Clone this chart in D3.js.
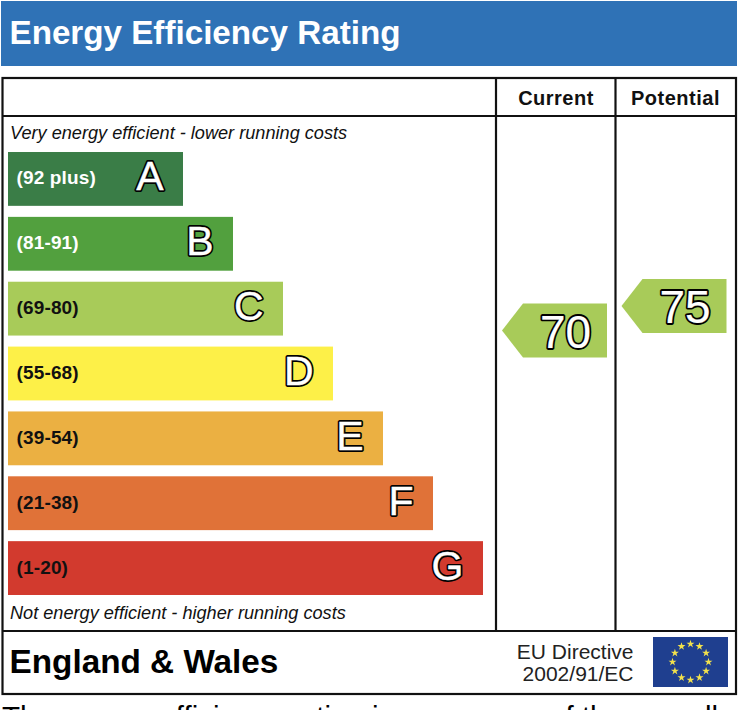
<!DOCTYPE html>
<html>
<head>
<meta charset="utf-8">
<script src="https://cdn.jsdelivr.net/npm/d3@7"></script>
<style>
  html, body { margin: 0; padding: 0; background: #fff; }
  svg { display: block; font-family: "Liberation Sans", Arial, sans-serif; }
</style>
</head>
<body>
<div id="chart"></div>
<script>
// Data
const bandLetters = ["A", "B", "C", "D", "E", "F", "G"];
const bandRanges = ["(92 plus)", "(81-91)", "(69-80)", "(55-68)", "(39-54)", "(21-38)", "(1-20)"];
const bandLengths = [1, 2, 3, 4, 5, 6, 7];
const bandColors = ["#3a7d47", "#52a03e", "#a8cb59", "#fdf048", "#ebb042", "#e07238", "#d23a2e"];
const ratingColumns = ["Current", "Potential"];
const ratingValues = [70, 75];
const ratingColor = "#a8cb59";

const width = 742;
const height = 710;

const svg = d3.select("#chart")
  .append("svg")
  .attr("width", width)
  .attr("height", height);

// Title banner
svg.append("rect")
  .attr("x", 1).attr("y", 1)
  .attr("width", 736).attr("height", 65)
  .attr("fill", "#2f72b6");

svg.append("text")
  .attr("x", 9.5).attr("y", 43.5)
  .attr("fill", "#fff")
  .style("font-size", "33.2px")
  .style("font-weight", "bold")
  .text("Energy Efficiency Rating");

// Scales
const xBar = d3.scaleLinear().domain([1, 7]).range([183, 483]);
const yBand = d3.scaleBand()
  .domain(bandLetters)
  .range([146.5, 600.5])
  .paddingInner(0.17)
  .paddingOuter(0.085);
const yRating = d3.scaleLinear().domain([70, 75]).range([330.5, 306]);
const xColumn = d3.scaleOrdinal().domain(ratingColumns).range([556, 675.5]);

// Outlined white text: black halo underneath, white on top
function outlined(sel, outer, inner) {
  sel.append("text")
    .attr("class", "halo")
    .attr("stroke", "#000")
    .attr("stroke-width", outer)
    .attr("stroke-linejoin", "round")
    .attr("fill", "#000");
  sel.append("text")
    .attr("class", "core")
    .attr("stroke", "#fff")
    .attr("stroke-width", inner)
    .attr("fill", "#fff");
  return sel.selectAll("text.halo, text.core");
}

// Bars
const bars = svg.append("g").selectAll("g")
  .data(bandLetters)
  .join("g")
  .attr("transform", d => `translate(8,${yBand(d)})`);

bars.append("rect")
  .attr("width", (d, i) => xBar(bandLengths[i]) - 8)
  .attr("height", yBand.bandwidth())
  .attr("fill", (d, i) => bandColors[i]);

bars.append("text")
  .attr("x", 8.5)
  .attr("y", yBand.bandwidth() / 2 + 5.5)
  .attr("fill", (d, i) => i < 2 ? "#fff" : "#111")
  .style("font-size", "19px")
  .style("font-weight", "bold")
  .style("letter-spacing", "0.15px")
  .text((d, i) => bandRanges[i]);

outlined(bars, 3.8, 0.4)
  .attr("x", d => xBar(bandLengths[bandLetters.indexOf(d)]) - 8 - 19.5)
  .attr("y", yBand.bandwidth() / 2 + 11.5)
  .attr("text-anchor", "end")
  .style("font-size", "41px")
  .text(d => d);

// Frame lines
const frame = svg.append("g")
  .attr("stroke", "#111")
  .attr("stroke-width", 2.2)
  .attr("fill", "none");

frame.append("rect").attr("x", 2.5).attr("y", 78).attr("width", 733.5).attr("height", 616);
[116, 631].forEach(y => frame.append("line").attr("x1", 2).attr("x2", 736).attr("y1", y).attr("y2", y));
[496, 615.5].forEach(x => frame.append("line").attr("x1", x).attr("x2", x).attr("y1", 78).attr("y2", 631));

// Column headers
svg.append("g").selectAll("text")
  .data(ratingColumns)
  .join("text")
  .attr("x", d => xColumn(d))
  .attr("y", 105)
  .attr("text-anchor", "middle")
  .attr("fill", "#111")
  .style("font-size", "20px")
  .style("font-weight", "bold")
  .style("letter-spacing", "0.5px")
  .text(d => d);

// Rating arrows
const arrows = svg.append("g").selectAll("g")
  .data(ratingValues)
  .join("g")
  .attr("transform", (d, i) => `translate(${xColumn(ratingColumns[i])},${yRating(d)})`);

arrows.append("path")
  .attr("d", "M-54,0L-33,-27H51V27H-33Z")
  .attr("fill", ratingColor);

outlined(arrows, 3.8, 0.2)
  .attr("x", 9.5)
  .attr("y", 17)
  .attr("text-anchor", "middle")
  .style("font-size", "46px")
  .text(d => d);

// Captions
svg.append("text")
  .attr("x", 10).attr("y", 139)
  .attr("fill", "#111")
  .style("font-size", "18.15px")
  .style("font-style", "italic")
  .text("Very energy efficient - lower running costs");

svg.append("text")
  .attr("x", 10).attr("y", 619)
  .attr("fill", "#111")
  .style("font-size", "18.15px")
  .style("font-style", "italic")
  .text("Not energy efficient - higher running costs");

// Footer
svg.append("text")
  .attr("x", 9.5).attr("y", 672.5)
  .attr("fill", "#000")
  .style("font-size", "33.3px")
  .style("font-weight", "bold")
  .text("England & Wales");

svg.append("text")
  .attr("x", 633.5).attr("y", 659)
  .attr("text-anchor", "end")
  .attr("fill", "#222")
  .style("font-size", "21px")
  .text("EU Directive");

svg.append("text")
  .attr("x", 633.5).attr("y", 681)
  .attr("text-anchor", "end")
  .attr("fill", "#222")
  .style("font-size", "21px")
  .text("2002/91/EC");

// EU flag
const flag = svg.append("g").attr("transform", "translate(653,637)");
flag.append("rect").attr("width", 75).attr("height", 50).attr("fill", "#1f3f8f");

const starAngle = d3.scaleLinear().domain([0, 12]).range([0, 2 * Math.PI]);
flag.selectAll("path")
  .data(d3.range(12))
  .join("path")
  .attr("d", d3.symbol(d3.symbolStar, 20))
  .attr("fill", "#f3e24c")
  .attr("transform", d => `translate(${37.5 + 18 * Math.sin(starAngle(d))},${25 - 18 * Math.cos(starAngle(d))})`);

// Cropped sentence under the panel
svg.append("text")
  .attr("x", 2).attr("y", 727)
  .attr("fill", "#000")
  .style("font-size", "29.5px")
  .text("The energy efficiency rating is a measure of the overall");
</script>
</body>
</html>
